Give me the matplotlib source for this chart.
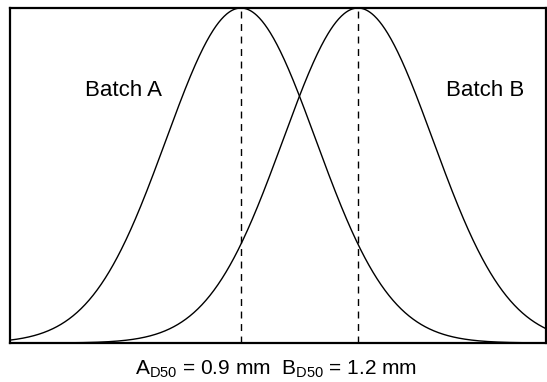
import numpy as np
import matplotlib
matplotlib.use("Agg")
import matplotlib.pyplot as plt

plt.rcParams['font.family'] = ['Liberation Sans', 'DejaVu Sans']
plt.rcParams['mathtext.fontset'] = 'custom'
plt.rcParams['mathtext.rm'] = 'Liberation Sans'
plt.rcParams['mathtext.it'] = 'Liberation Sans:italic'

# Data
batches = ["Batch A", "Batch B"]
d50_mm = [0.9, 1.2]
sigma_mm = [0.192, 0.192]
x_range = [0.308, 1.682]

fig = plt.figure(figsize=(5.47, 3.82), dpi=100)
ax = fig.add_axes([10/547, 39/382, 536/547, 335/382])

x = np.linspace(x_range[0], x_range[1], 800)
for mu, s in zip(d50_mm, sigma_mm):
    y = np.exp(-(x - mu) ** 2 / (2 * s ** 2))
    ax.plot(x, y, color='black', lw=1.0)
    ax.plot([mu, mu], [0, 1], color='black', lw=1.0, linestyle=(0, (5, 4)))

ax.set_xlim(x_range)
ax.set_ylim(0, 1)
ax.set_xticks([])
ax.set_yticks([])
for sp in ax.spines.values():
    sp.set_linewidth(1.6)

ax.text(0.60, 0.755, batches[0], fontsize=16, ha='center', va='center')
ax.text(1.526, 0.755, batches[1], fontsize=16, ha='center', va='center')

label = (r"A$_{\mathrm{D50}}$ = %.1f mm  B$_{\mathrm{D50}}$ = %.1f mm" % (d50_mm[0], d50_mm[1]))
fig.text(276/547, 1 - 369/382, label, fontsize=15, ha='center', va='center')

fig.savefig("out.png", dpi=100)
